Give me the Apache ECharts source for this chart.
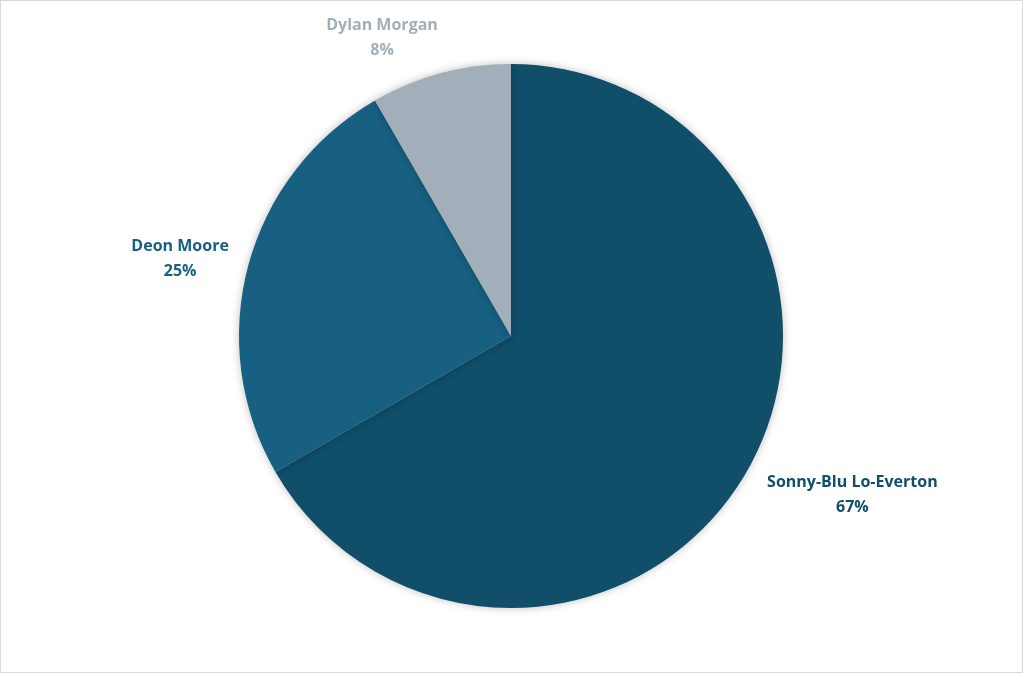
<!DOCTYPE html>
<html>
<head>
<meta charset="utf-8">
<script src="https://cdn.jsdelivr.net/npm/echarts@6/dist/echarts.min.js"></script>
<style>
  html, body { margin: 0; padding: 0; background: #fff; }
  #chart { width: 1021px; height: 671px; border: 1px solid #d9d9d9; }
</style>
</head>
<body>
<div id="chart"></div>
<script>
// Data
const names = ['Sonny-Blu Lo-Everton', 'Deon Moore', 'Dylan Morgan'];
const values = [8, 3, 1];

// Styles
const colors = ['#104e6a', '#176082', '#a2aeb9'];
// hidden label line lengths, used only to place each label like the original
const labelLengths = [[46, 61], [25, 39], [37, 44]];

const chart = echarts.init(document.getElementById('chart'));

chart.setOption({
  backgroundColor: '#fff',
  animation: false,
  series: [{
    type: 'pie',
    center: [510, 335],
    radius: 272,
    startAngle: 90,
    clockwise: true,
    percentPrecision: 0,
    avoidLabelOverlap: false,
    data: names.map((n, i) => ({
      name: n,
      value: values[i],
      itemStyle: { color: colors[i] },
      label: { color: colors[i] },
      labelLine: { length: labelLengths[i][0], length2: labelLengths[i][1] }
    })),
    itemStyle: {
      shadowBlur: 8,
      shadowColor: 'rgba(0,0,0,0.25)'
    },
    label: {
      show: true,
      position: 'outside',
      formatter: '{b}\n{d}%',
      fontFamily: 'Open Sans',
      fontWeight: 'bold',
      fontSize: 16,
      lineHeight: 25
    },
    labelLine: { show: false },
    labelLayout: () => ({ align: 'center', verticalAlign: 'middle' })
  }]
});
</script>
</body>
</html>
